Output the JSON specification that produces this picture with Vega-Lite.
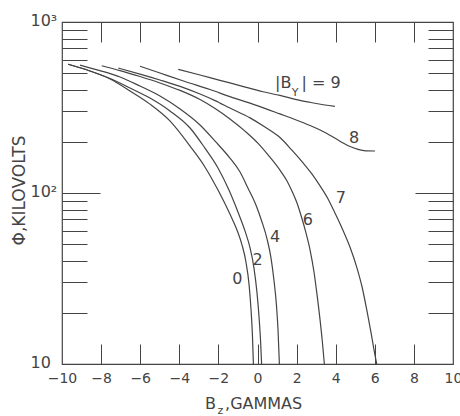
{
  "$schema": "https://vega.github.io/schema/vega-lite/v6.json",
  "width": 391,
  "height": 342,
  "autosize": {"type": "none"},
  "padding": {"left": 62, "top": 22, "right": 7, "bottom": 52},
  "background": "white",
  "config": {
    "view": {"stroke": "#444", "strokeWidth": 1.2},
    "font": "DejaVu Sans",
    "axis": {"labelFont": "DejaVu Sans", "labelColor": "#444", "tickColor": "#444", "tickWidth": 1, "grid": false, "domain": false}
  },
  "datasets": {
    "curves": [
      {"by": 0, "bz": -9.69, "phi": 566}, {"by": 0, "bz": -8.57, "phi": 517}, {"by": 0, "bz": -7.54, "phi": 464},
      {"by": 0, "bz": -6.52, "phi": 395}, {"by": 0, "bz": -5.5, "phi": 331}, {"by": 0, "bz": -4.48, "phi": 264},
      {"by": 0, "bz": -3.45, "phi": 188}, {"by": 0, "bz": -2.69, "phi": 142}, {"by": 0, "bz": -2.02, "phi": 104},
      {"by": 0, "bz": -1.41, "phi": 75.3}, {"by": 0, "bz": -1.05, "phi": 60.8}, {"by": 0, "bz": -0.79, "phi": 49.6},
      {"by": 0, "bz": -0.59, "phi": 39.5}, {"by": 0, "bz": -0.43, "phi": 29.0}, {"by": 0, "bz": -0.33, "phi": 20.7},
      {"by": 0, "bz": -0.26, "phi": 14.8}, {"by": 0, "bz": -0.21, "phi": 10},

      {"by": 2, "bz": -9.69, "phi": 566}, {"by": 2, "bz": -8.57, "phi": 517}, {"by": 2, "bz": -7.54, "phi": 467},
      {"by": 2, "bz": -6.52, "phi": 411}, {"by": 2, "bz": -5.5, "phi": 359}, {"by": 2, "bz": -4.48, "phi": 302},
      {"by": 2, "bz": -3.45, "phi": 240}, {"by": 2, "bz": -2.69, "phi": 183}, {"by": 2, "bz": -2.02, "phi": 140},
      {"by": 2, "bz": -1.46, "phi": 104}, {"by": 2, "bz": -1.0, "phi": 77.4}, {"by": 2, "bz": -0.64, "phi": 60.0},
      {"by": 2, "bz": -0.38, "phi": 47.7}, {"by": 2, "bz": -0.18, "phi": 36.4}, {"by": 2, "bz": -0.03, "phi": 26.4},
      {"by": 2, "bz": 0.09, "phi": 18.1}, {"by": 2, "bz": 0.16, "phi": 13.4}, {"by": 2, "bz": 0.21, "phi": 10},

      {"by": 4, "bz": -9.08, "phi": 560}, {"by": 4, "bz": -8.06, "phi": 520}, {"by": 4, "bz": -7.03, "phi": 477},
      {"by": 4, "bz": -6.01, "phi": 422}, {"by": 4, "bz": -4.99, "phi": 369}, {"by": 4, "bz": -3.96, "phi": 310},
      {"by": 4, "bz": -2.94, "phi": 250}, {"by": 4, "bz": -2.17, "phi": 201}, {"by": 4, "bz": -1.41, "phi": 160},
      {"by": 4, "bz": -0.9, "phi": 133}, {"by": 4, "bz": -0.49, "phi": 107}, {"by": 4, "bz": -0.08, "phi": 85.1},
      {"by": 4, "bz": 0.23, "phi": 67.7}, {"by": 4, "bz": 0.49, "phi": 53.8}, {"by": 4, "bz": 0.69, "phi": 41.7},
      {"by": 4, "bz": 0.84, "phi": 31.0}, {"by": 4, "bz": 0.97, "phi": 22.1}, {"by": 4, "bz": 1.05, "phi": 15.8},
      {"by": 4, "bz": 1.12, "phi": 10},

      {"by": 6, "bz": -7.97, "phi": 555}, {"by": 6, "bz": -7.03, "phi": 520}, {"by": 6, "bz": -6.01, "phi": 480},
      {"by": 6, "bz": -4.99, "phi": 440}, {"by": 6, "bz": -3.96, "phi": 398}, {"by": 6, "bz": -2.94, "phi": 352},
      {"by": 6, "bz": -2.17, "phi": 312}, {"by": 6, "bz": -1.41, "phi": 271}, {"by": 6, "bz": -0.64, "phi": 230},
      {"by": 6, "bz": 0.03, "phi": 195}, {"by": 6, "bz": 0.54, "phi": 167}, {"by": 6, "bz": 1.15, "phi": 136},
      {"by": 6, "bz": 1.51, "phi": 117.5}, {"by": 6, "bz": 1.76, "phi": 102.7}, {"by": 6, "bz": 2.02, "phi": 87.4},
      {"by": 6, "bz": 2.25, "phi": 72.4}, {"by": 6, "bz": 2.48, "phi": 58.4}, {"by": 6, "bz": 2.69, "phi": 46.4},
      {"by": 6, "bz": 2.89, "phi": 34.5}, {"by": 6, "bz": 3.04, "phi": 25.7}, {"by": 6, "bz": 3.2, "phi": 18.1},
      {"by": 6, "bz": 3.32, "phi": 13.4}, {"by": 6, "bz": 3.42, "phi": 10},

      {"by": 7, "bz": -7.12, "phi": 538}, {"by": 7, "bz": -6.01, "phi": 496}, {"by": 7, "bz": -4.99, "phi": 458},
      {"by": 7, "bz": -3.96, "phi": 420}, {"by": 7, "bz": -2.94, "phi": 379}, {"by": 7, "bz": -2.17, "phi": 347},
      {"by": 7, "bz": -1.41, "phi": 314}, {"by": 7, "bz": -0.38, "phi": 275}, {"by": 7, "bz": 0.38, "phi": 243},
      {"by": 7, "bz": 1.15, "phi": 211}, {"by": 7, "bz": 1.76, "phi": 178}, {"by": 7, "bz": 2.33, "phi": 150},
      {"by": 7, "bz": 2.79, "phi": 129}, {"by": 7, "bz": 3.2, "phi": 110}, {"by": 7, "bz": 3.61, "phi": 92.2},
      {"by": 7, "bz": 3.96, "phi": 76.4}, {"by": 7, "bz": 4.32, "phi": 62.4}, {"by": 7, "bz": 4.73, "phi": 48.3},
      {"by": 7, "bz": 5.09, "phi": 36.4}, {"by": 7, "bz": 5.35, "phi": 28.2}, {"by": 7, "bz": 5.59, "phi": 20.7},
      {"by": 7, "bz": 5.81, "phi": 15.2}, {"by": 7, "bz": 5.96, "phi": 12.1}, {"by": 7, "bz": 6.1, "phi": 10},

      {"by": 8, "bz": -6.01, "phi": 551}, {"by": 8, "bz": -4.99, "phi": 503}, {"by": 8, "bz": -3.71, "phi": 449},
      {"by": 8, "bz": -2.43, "phi": 403}, {"by": 8, "bz": -1.41, "phi": 366}, {"by": 8, "bz": 0.13, "phi": 320},
      {"by": 8, "bz": 1.15, "phi": 290}, {"by": 8, "bz": 1.92, "phi": 269}, {"by": 8, "bz": 2.69, "phi": 248},
      {"by": 8, "bz": 3.45, "phi": 226}, {"by": 8, "bz": 4.22, "phi": 201}, {"by": 8, "bz": 4.73, "phi": 187},
      {"by": 8, "bz": 5.14, "phi": 180}, {"by": 8, "bz": 5.55, "phi": 176.5}, {"by": 8, "bz": 6.01, "phi": 176},

      {"by": 9, "bz": -4.05, "phi": 529}, {"by": 9, "bz": -2.94, "phi": 490}, {"by": 9, "bz": -1.92, "phi": 456},
      {"by": 9, "bz": -0.9, "phi": 425}, {"by": 9, "bz": 0.28, "phi": 391}, {"by": 9, "bz": 1.15, "phi": 372},
      {"by": 9, "bz": 2.17, "phi": 348}, {"by": 9, "bz": 2.94, "phi": 335}, {"by": 9, "bz": 3.45, "phi": 327},
      {"by": 9, "bz": 3.96, "phi": 321}
    ],
    "centerText": [
      {"t": "0", "bz": -1.03, "phi": 31.3},
      {"t": "2", "bz": 0.01, "phi": 40.6},
      {"t": "4", "bz": 0.9, "phi": 55.1},
      {"t": "6", "bz": 2.57, "phi": 69.5},
      {"t": "7", "bz": 4.26, "phi": 93.1},
      {"t": "8", "bz": 4.94, "phi": 209},
      {"t": "B", "bz": -2.4, "phi": 5.83}
    ],
    "leftText": [
      {"t": "|B", "bz": 0.895, "phi": 438},
      {"t": "| = 9", "bz": 2.25, "phi": 438},
      {"t": ",GAMMAS", "bz": -1.66, "phi": 5.8}
    ],
    "subText": [
      {"t": "Y", "bz": 1.93, "phi": 385},
      {"t": "z", "bz": -1.9, "phi": 5.3}
    ]
  },
  "layer": [
    {
      "data": {"name": "curves"},
      "mark": {"type": "line", "color": "#444", "strokeWidth": 1.2, "interpolate": "monotone"},
      "encoding": {
        "x": {"field": "bz", "type": "quantitative", "scale": {"domain": [-10, 10], "nice": false, "zero": false},
          "axis": {"orient": "bottom", "values": [-10, -8, -6, -4, -2, 0, 2, 4, 6, 8, 10], "ticks": false, "title": null,
            "labelPadding": 14, "labelBaseline": "middle", "labelFontSize": 14, "labelFlush": false}},
        "y": {"field": "phi", "type": "quantitative", "scale": {"type": "log", "domain": [10, 1000], "nice": false},
          "axis": {"orient": "left", "values": [10, 100, 1000], "ticks": false,
            "labelExpr": "datum.value == 1000 ? '10³' : datum.value == 100 ? '10²' : '10'",
            "labelAlign": "left", "labelPadding": 32, "labelFontSize": 16, "labelBaseline": "middle", "labelOffset": -2,
            "title": "Φ,KILOVOLTS", "titleFont": "DejaVu Sans", "titleFontSize": 17, "titleFontWeight": "normal", "titleColor": "#444",
            "titleAngle": -90, "titleX": -43, "titleY": 168, "titleAlign": "center", "titleBaseline": "middle"}},
        "detail": {"field": "by", "type": "nominal"}
      }
    },
    {
      "data": {"name": "curves"},
      "mark": {"type": "line", "opacity": 0},
      "encoding": {
        "x": {"field": "bz", "type": "quantitative",
          "axis": {"orient": "top", "values": [-8, -6, -4, -2, 0, 2, 4, 6, 8], "labels": false, "tickSize": -20, "title": null}},
        "y": {"field": "phi", "type": "quantitative",
          "axis": {"orient": "right", "values": [20, 30, 40, 50, 60, 70, 80, 90, 100, 200, 300, 400, 500, 600, 700, 800, 900], "labels": false, "title": null,
            "tickSize": {"condition": {"test": "datum.value == 100", "value": -38}, "value": -25}}},
        "detail": {"field": "by", "type": "nominal"}
      }
    },
    {
      "data": {"name": "curves"},
      "mark": {"type": "line", "opacity": 0},
      "encoding": {
        "x": {"field": "bz", "type": "quantitative",
          "axis": {"orient": "bottom", "values": [-8, -6, -4, -2, 0, 2, 4, 6, 8], "labels": false, "tickSize": -20, "title": null}},
        "y": {"field": "phi", "type": "quantitative",
          "axis": {"orient": "left", "values": [20, 30, 40, 50, 60, 70, 80, 90, 100, 200, 300, 400, 500, 600, 700, 800, 900], "labels": false, "title": null,
            "tickSize": {"condition": {"test": "datum.value == 100", "value": -38}, "value": -25}}},
        "detail": {"field": "by", "type": "nominal"}
      }
    },
    {
      "data": {"name": "centerText"},
      "mark": {"type": "text", "fontSize": 16, "color": "#444", "align": "center", "baseline": "middle", "font": "DejaVu Sans"},
      "encoding": {
        "x": {"field": "bz", "type": "quantitative", "axis": null},
        "y": {"field": "phi", "type": "quantitative", "axis": null},
        "text": {"field": "t"}
      }
    },
    {
      "data": {"name": "leftText"},
      "mark": {"type": "text", "fontSize": 16, "color": "#444", "align": "left", "baseline": "middle", "font": "DejaVu Sans"},
      "encoding": {
        "x": {"field": "bz", "type": "quantitative", "axis": null},
        "y": {"field": "phi", "type": "quantitative", "axis": null},
        "text": {"field": "t"}
      }
    },
    {
      "data": {"name": "subText"},
      "mark": {"type": "text", "fontSize": 11, "color": "#444", "align": "center", "baseline": "middle", "font": "DejaVu Sans"},
      "encoding": {
        "x": {"field": "bz", "type": "quantitative", "axis": null},
        "y": {"field": "phi", "type": "quantitative", "axis": null},
        "text": {"field": "t"}
      }
    }
  ],
  "resolve": {"axis": {"x": "independent", "y": "independent"}}
}
